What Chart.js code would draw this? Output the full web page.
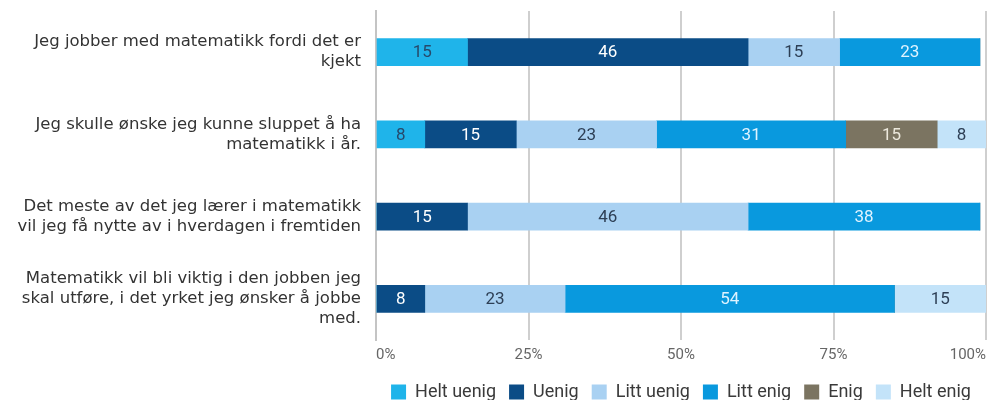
<!DOCTYPE html>
<html>
<head>
<meta charset="utf-8">
<script src="https://cdn.jsdelivr.net/npm/chart.js@4/dist/chart.umd.min.js"></script>
<style>
  html, body { margin: 0; padding: 0; background: #fff; }
  #wrap { width: 992px; height: 400px; }
</style>
</head>
<body>
<div id="wrap"><canvas id="survey_chart"></canvas></div>
<script>
  const statements = [
    ["Jeg jobber med matematikk fordi det er", "kjekt"],
    ["Jeg skulle ønske jeg kunne sluppet å ha", "matematikk i år."],
    ["Det meste av det jeg lærer i matematikk", "vil jeg få nytte av i hverdagen i fremtiden"],
    ["Matematikk vil bli viktig i den jobben jeg", "skal utføre, i det yrket jeg ønsker å jobbe", "med."],
  ];

  const answers = ["Helt uenig", "Uenig", "Litt uenig", "Litt enig", "Enig", "Helt enig"];

  // percent per statement, one array per answer
  const heltUenig = [15, 8, 0, 0];
  const uenig = [46, 15, 15, 8];
  const littUenig = [15, 23, 46, 23];
  const littEnig = [23, 31, 38, 54];
  const enig = [0, 15, 0, 0];
  const heltEnig = [0, 8, 0, 15];

  const xTicks = [0, 25, 50, 75, 100];

  const fills = ["#1fb4ea", "#0b4c86", "#a9d1f2", "#0999de", "#7b7461", "#c3e3f9"];
  const labelColors = ["#27496b", "#ffffff", "#2d3f55", "#dff3ff", "#ece8dc", "#2d3f55"];

  const series = [heltUenig, uenig, littUenig, littEnig, enig, heltEnig];

  // writes the value in the middle of every segment
  const segmentLabels = {
    id: "segmentLabels",
    afterDatasetsDraw(chart) {
      const ctx = chart.ctx;
      ctx.save();
      ctx.font = "17px Roboto";
      ctx.textAlign = "center";
      ctx.textBaseline = "middle";
      chart.data.datasets.forEach((ds, i) => {
        const meta = chart.getDatasetMeta(i);
        if (meta.hidden) return;
        meta.data.forEach((bar, j) => {
          const v = ds.data[j];
          if (!v) return;
          ctx.fillStyle = labelColors[i];
          ctx.fillText(String(v), (bar.x + bar.base) / 2, bar.y + 1);
        });
      });
      ctx.restore();
    },
  };

  new Chart(document.getElementById("survey_chart"), {
    type: "bar",
    data: {
      labels: statements,
      datasets: series.map((values, i) => ({
        label: answers[i],
        data: values,
        backgroundColor: fills[i],
        borderWidth: 0,
        barThickness: 27,
      })),
    },
    options: {
      indexAxis: "y",
      responsive: true,
      maintainAspectRatio: false,
      animation: false,
      layout: { padding: { top: 11, right: 5, left: 0, bottom: -11 } },
      plugins: {
        legend: {
          position: "bottom",
          fullSize: false,
          labels: {
            boxWidth: 15,
            boxHeight: 15,
            padding: 13,
            color: "#3a3a3a",
            font: { family: "Roboto", size: 18 },
          },
        },
        tooltip: { enabled: false },
      },
      scales: {
        x: {
          stacked: true,
          min: 0,
          max: 100,
          afterBuildTicks(axis) {
            axis.ticks = xTicks.map((v) => ({ value: v }));
          },
          ticks: {
            align: "inner",
            color: "#666",
            font: { family: "Roboto", size: 15 },
            padding: 6,
            callback: (v) => v + "%",
          },
          grid: { color: "#cfcfcf", lineWidth: 2, drawTicks: false },
          border: { display: false },
        },
        y: {
          stacked: true,
          afterFit(scale) {
            // fixed label column, no extra room for the multi-line end labels
            scale.width = 376;
            scale.paddingTop = 0;
            scale.paddingBottom = 0;
          },
          ticks: {
            color: "#333",
            font: { family: "DejaVu Sans", size: 16.5, lineHeight: 1.22 },
            padding: 15,
          },
          grid: { display: false, drawTicks: false, tickLength: 0 },
          border: { color: "#c4c4c4", width: 2 },
        },
      },
    },
    plugins: [segmentLabels],
  });
</script>
</body>
</html>
